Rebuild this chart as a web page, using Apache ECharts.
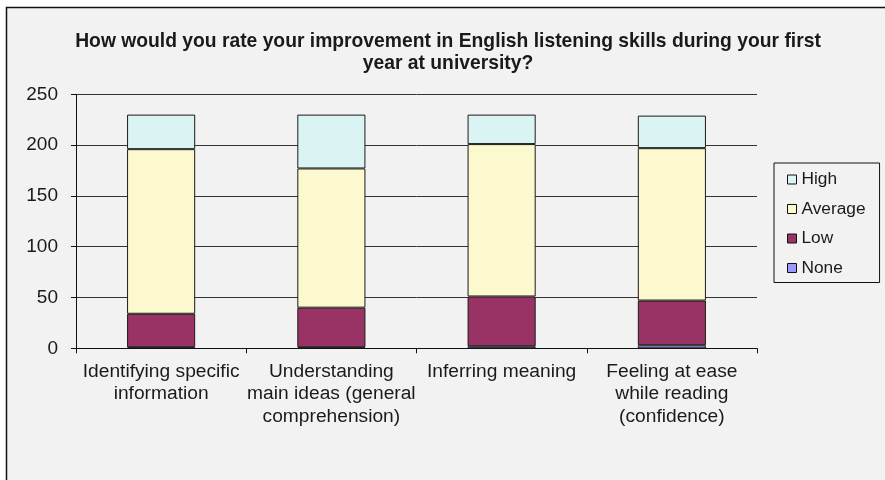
<!DOCTYPE html>
<html>
<head>
<meta charset="utf-8">
<script src="https://cdn.jsdelivr.net/npm/echarts@6/dist/echarts.min.js"></script>
<style>
  html, body { margin: 0; padding: 0; background: #ffffff; }
  #chart { width: 885px; height: 480px; }
</style>
</head>
<body>
<div id="chart"></div>
<script>
// Survey answers per skill, stacked from "None" at the bottom to "High" on top
const categories = [
  'Identifying specific\ninformation',
  'Understanding\nmain ideas (general\ncomprehension)',
  'Inferring meaning',
  'Feeling at ease\nwhile reading\n(confidence)'
];
const noneValues    = [1, 1, 2, 3];
const lowValues     = [33, 39, 49, 44];
const averageValues = [162, 137, 150, 150];
const highValues    = [34, 53, 29, 32];
const yTicks = { min: 0, max: 250, interval: 50 };

const FONT = '"Liberation Sans", Arial, Helvetica, sans-serif';

function barSeries(name, data, color) {
  return {
    name: name,
    type: 'bar',
    stack: 'total',
    barWidth: '40%',
    data: data,
    itemStyle: { color: color, borderColor: '#1a1a1a', borderWidth: 1 },
    emphasis: { disabled: true }
  };
}

const chart = echarts.init(document.getElementById('chart'), null, { renderer: 'canvas' });
chart.setOption({
  animation: false,
  backgroundColor: '#ffffff',
  textStyle: { fontFamily: FONT },
  graphic: [{
    type: 'rect',
    z: -10,
    silent: true,
    shape: { x: 6.5, y: 7.5, width: 900, height: 500 },
    style: { fill: '#F2F2F2', stroke: '#111', lineWidth: 1.5 }
  }],
  title: {
    text: 'How would you rate your improvement in English listening skills during your first\nyear at university?',
    left: 448,
    textAlign: 'center',
    top: 30,
    padding: 0,
    textStyle: {
      fontFamily: FONT,
      fontSize: 19.3,
      fontWeight: 'bold',
      color: '#1a1a1a',
      lineHeight: 22.5
    }
  },
  legend: {
    orient: 'vertical',
    left: 774,
    top: 163,
    padding: [8, 14, 6, 13],
    itemGap: 12.5,
    itemWidth: 9,
    itemHeight: 9,
    icon: 'rect',
    borderColor: '#111',
    borderWidth: 1,
    itemStyle: { borderColor: '#111', borderWidth: 1 },
    textStyle: { fontFamily: FONT, fontSize: 17.3, color: '#1a1a1a', lineHeight: 17 },
    data: ['High', 'Average', 'Low', 'None']
  },
  grid: { left: 76, right: 128, top: 94.3, bottom: 131.7, containLabel: false },
  xAxis: {
    type: 'category',
    data: categories,
    boundaryGap: true,
    axisLine: { lineStyle: { color: '#111', width: 1 } },
    axisTick: { show: true, alignWithLabel: false, length: 5, lineStyle: { color: '#111' } },
    axisLabel: {
      interval: 0,
      margin: 12,
      fontFamily: FONT,
      fontSize: 19.2,
      lineHeight: 22.5,
      color: '#1a1a1a',
      align: 'center'
    }
  },
  yAxis: {
    type: 'value',
    min: yTicks.min,
    max: yTicks.max,
    interval: yTicks.interval,
    axisLine: { show: true, lineStyle: { color: '#111', width: 1 } },
    axisTick: { show: true, length: 5, lineStyle: { color: '#111' } },
    splitLine: { show: true, lineStyle: { color: '#333', width: 1 } },
    axisLabel: {
      margin: 18,
      fontFamily: FONT,
      fontSize: 19,
      color: '#1a1a1a'
    }
  },
  series: [
    barSeries('None', noneValues, '#9999FF'),
    barSeries('Low', lowValues, '#993366'),
    barSeries('Average', averageValues, '#FCF9CE'),
    barSeries('High', highValues, '#D9F4F3')
  ]
});
</script>
</body>
</html>
